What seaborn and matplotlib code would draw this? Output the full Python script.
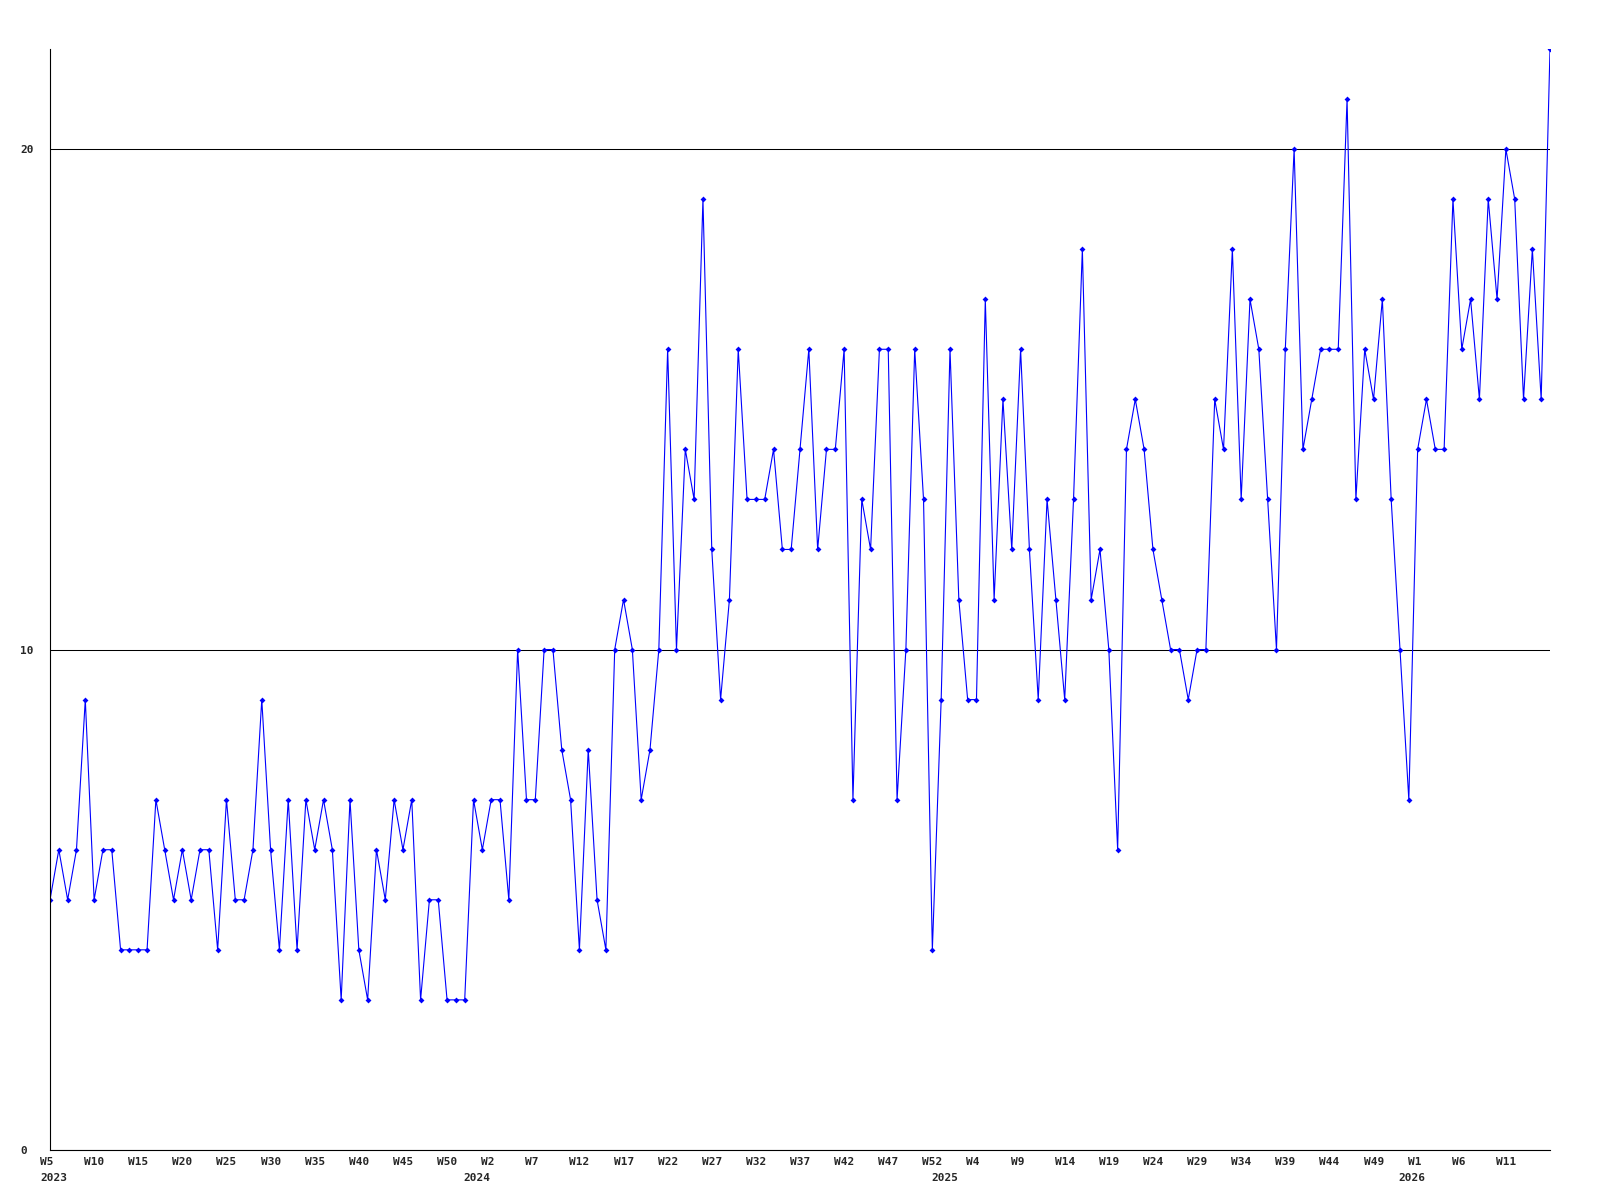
import numpy as np
import pandas as pd
import matplotlib
matplotlib.use("Agg")
import matplotlib.pyplot as plt
from matplotlib.transforms import ScaledTranslation
import seaborn as sns

# Weekly counts, one value per week starting at W5 2023
COUNTS = [
    5, 6, 5, 6, 9, 5, 6, 6, 4, 4,
    4, 4, 7, 6, 5, 6, 5, 6, 6, 4,
    7, 5, 5, 6, 9, 6, 4, 7, 4, 7,
    6, 7, 6, 3, 7, 4, 3, 6, 5, 7,
    6, 7, 3, 5, 5, 3, 3, 3, 7, 6,
    7, 7, 5, 10, 7, 7, 10, 10, 8, 7,
    4, 8, 5, 4, 10, 11, 10, 7, 8, 10,
    16, 10, 14, 13, 19, 12, 9, 11, 16, 13,
    13, 13, 14, 12, 12, 14, 16, 12, 14, 14,
    16, 7, 13, 12, 16, 16, 7, 10, 16, 13,
    4, 9, 16, 11, 9, 9, 17, 11, 15, 12,
    16, 12, 9, 13, 11, 9, 13, 18, 11, 12,
    10, 6, 14, 15, 14, 12, 11, 10, 10, 9,
    10, 10, 15, 14, 18, 13, 17, 16, 13, 10,
    16, 20, 14, 15, 16, 16, 16, 21, 13, 16,
    15, 17, 13, 10, 7, 14, 15, 14, 14, 19,
    16, 17, 15, 19, 17, 20, 19, 15, 18, 15,
    22,
]

# one week label every 5 points
WEEK_LABELS = [
    "W5", "W10", "W15", "W20", "W25", "W30", "W35", "W40", "W45", "W50",
    "W2", "W7", "W12", "W17", "W22", "W27", "W32", "W37", "W42", "W47", "W52",
    "W4", "W9", "W14", "W19", "W24", "W29", "W34", "W39", "W44", "W49",
    "W1", "W6", "W11",
]
YEAR_LABELS = ["2023", "2024", "2025", "2026"]
YEAR_POS = [0, 48, 101, 154]
Y_TICKS = [0, 10, 20]

FONT = dict(fontsize=8, fontweight="bold")


def plot_weekly_counts(filename):
    """ Weekly line chart with small markers, gridlines at 10 and 20 """
    df = pd.DataFrame({"week": np.arange(len(COUNTS)), "count": COUNTS})

    sns.set_style("white")
    plt.rcParams["font.family"] = ["DejaVu Sans Mono", "DejaVu Sans"]

    fig = plt.figure(figsize=(16, 12), dpi=100)
    ax = fig.add_axes([50 / 1600, 50 / 1200, 1500 / 1600, 1101 / 1200])

    sns.lineplot(data=df, x="week", y="count", color="#0000ff", linewidth=0.8,
                 marker="D", markersize=3, markeredgewidth=0, ax=ax)

    ax.set_xlim(0, 170)
    ax.set_ylim(0, 22)
    ax.set_xlabel("")
    ax.set_ylabel("")

    # --- y axis: labels left aligned out at the figure edge ---
    ax.set_yticks(Y_TICKS, [str(v) for v in Y_TICKS], **FONT)
    ax.tick_params(axis="y", length=0, pad=21.6)
    for lab in ax.get_yticklabels():
        lab.set_ha("left")
    ax.grid(axis="y", color="black", linewidth=0.75)
    ax.grid(axis="x", visible=False)

    # --- x axis: week row + year row ---
    ax.xaxis.remove_overlapping_locs = False
    ax.set_xticks(np.arange(0, 5 * len(WEEK_LABELS), 5), WEEK_LABELS, **FONT)
    ax.set_xticks(YEAR_POS, YEAR_LABELS, minor=True, **FONT)
    ax.tick_params(axis="x", which="major", length=0, pad=5)
    ax.tick_params(axis="x", which="minor", length=0, pad=16.5)
    shift = ScaledTranslation(-10 / 100, 0, fig.dpi_scale_trans)
    for lab in ax.get_xticklabels(which="both"):
        lab.set_ha("left")
        lab.set_transform(lab.get_transform() + shift)

    for side in ["top", "right"]:
        ax.spines[side].set_visible(False)
    for side in ["left", "bottom"]:
        ax.spines[side].set_color("black")
        ax.spines[side].set_linewidth(0.8)

    fig.savefig(filename, dpi=100)


if __name__ == "__main__":
    plot_weekly_counts("out.png")
